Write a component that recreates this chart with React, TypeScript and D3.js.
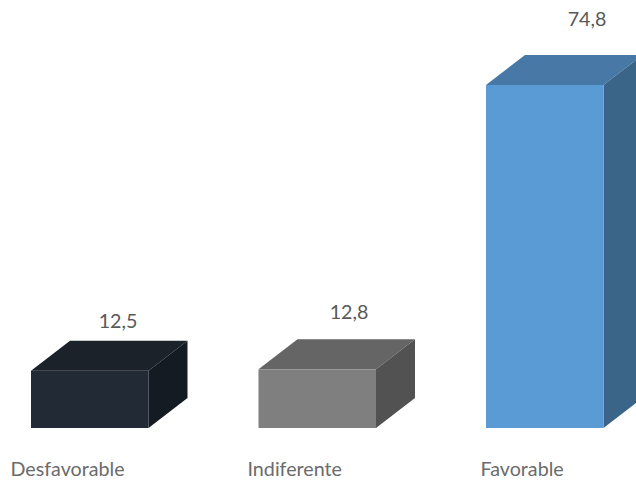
import React from "react";
import * as d3 from "d3";

const categories = ["Desfavorable", "Indiferente", "Favorable"];
const values = [12.5, 12.8, 74.8];
const valueLabels = ["12,5", "12,8", "74,8"];
const frontColors = ["#222a35", "#7f7f7f", "#5b9bd5"];
const topColors = ["#1b222a", "#656565", "#4878a6"];
const sideColors = ["#141b22", "#525252", "#3a6488"];
const labelX = [118, 349, 587];
const labelY = [328, 319, 26];
const catX = [10.5, 247.5, 480.5];

const W = 636, H = 484;
const DX = 39, DY = 30;

export default function App() {
  const x = d3.scaleBand<string>().domain(categories).range([31, 603.5]).paddingInner(0.4835).paddingOuter(0);
  const y = d3.scaleLinear().domain([0, 74.8]).range([428, 85]);
  const path = (pts: [number, number][]) => d3.line()(pts) + "Z";
  return (
    <svg width={W} height={H} viewBox={`0 0 ${W} ${H}`}
      style={{ position: "fixed", left: 0, top: 0, display: "block", background: "#fff" }}>
      {categories.map((c, i) => {
        const x0 = x(c) as number;
        const x1 = x0 + x.bandwidth();
        const yt = y(values[i]);
        const yb = y(0);
        return (
          <g key={c}>
            <path d={path([[x0, yt], [x0 + DX, yt - DY], [x1 + DX, yt - DY], [x1, yt]])} fill={topColors[i]} />
            <path d={path([[x1, yt], [x1 + DX, yt - DY], [x1 + DX, yb - DY], [x1, yb]])} fill={sideColors[i]} />
            <rect x={x0} y={yt} width={x.bandwidth()} height={yb - yt} fill={frontColors[i]} />
            <text x={labelX[i]} y={labelY[i]} textAnchor="middle" fontFamily="Lato" fontSize={19.7} fill="#595959">{valueLabels[i]}</text>
            <text x={catX[i]} y={476} fontFamily="Lato" fontSize={19.7} fill="#6b6b6b">{c}</text>
          </g>
        );
      })}
    </svg>
  );
}
